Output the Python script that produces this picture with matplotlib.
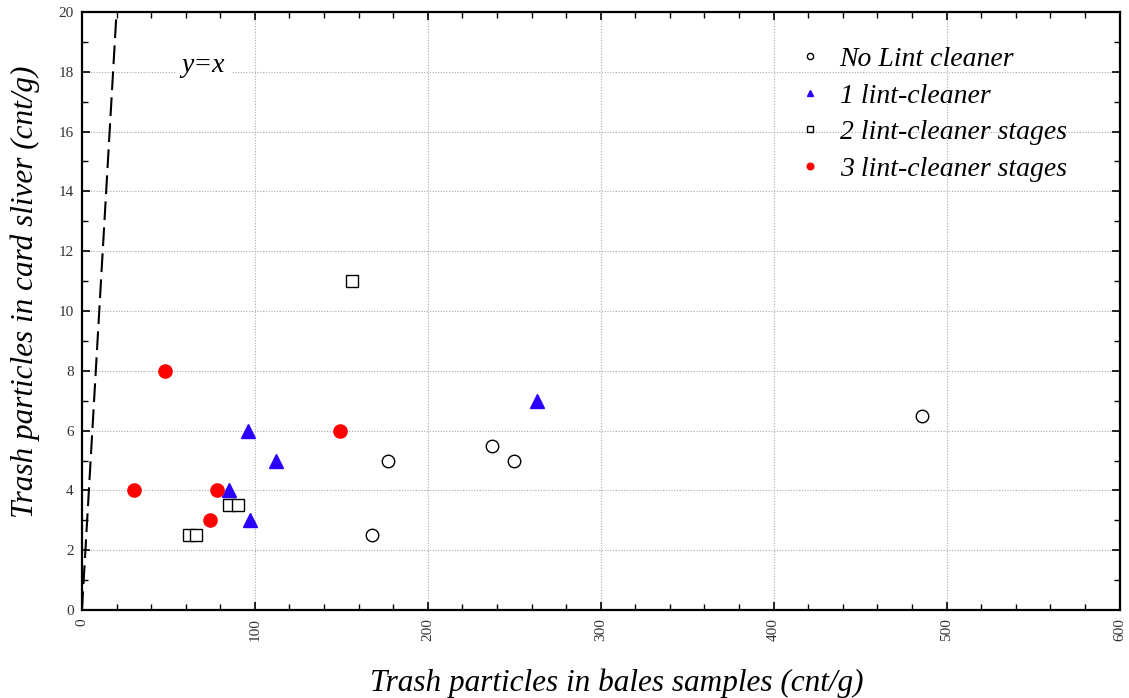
import numpy as np
import matplotlib
matplotlib.use("Agg")
import matplotlib.pyplot as plt
from matplotlib.ticker import MultipleLocator

# data
no_lint_x = [177, 168, 237, 250, 486]
no_lint_y = [5, 2.5, 5.5, 5, 6.5]

one_lint_x = [96, 112, 85, 97, 263]
one_lint_y = [6, 5, 4, 3, 7]

two_lint_x = [156, 62, 66, 85, 90]
two_lint_y = [11, 2.5, 2.5, 3.5, 3.5]

three_lint_x = [48, 30, 78, 74, 149]
three_lint_y = [8, 4, 4, 3, 6]

yx_line = [0, 20]

serif = ["Liberation Serif", "DejaVu Serif"]

fig = plt.figure(figsize=(11.29, 6.98), dpi=100)
ax = fig.add_axes([0.0726, 0.126, 0.919, 0.857])

# y = x reference line
ax.plot(yx_line, yx_line, color="black", lw=1.5, dashes=(9, 3.5), zorder=2)
ax.text(70, 18.2, "y=x", fontsize=20, style="italic", family=serif,
        ha="center", va="center", backgroundcolor="white", zorder=3)

ax.plot(no_lint_x, no_lint_y, "o", ls="none", mfc="white", mec="black",
        mew=1.0, ms=9, label="No Lint cleaner", zorder=4)
ax.plot(one_lint_x, one_lint_y, "^", ls="none", color="#2a00ff",
        ms=9.5, label="1 lint-cleaner", zorder=4)
ax.plot(two_lint_x, two_lint_y, "s", ls="none", mfc="white", mec="black",
        mew=1.0, ms=9, label="2 lint-cleaner stages", zorder=4)
ax.plot(three_lint_x, three_lint_y, "o", ls="none", color="red",
        ms=9.5, label="3 lint-cleaner stages", zorder=4)

ax.set_xlim(0, 600)
ax.set_ylim(0, 20)
ax.xaxis.set_major_locator(MultipleLocator(100))
ax.xaxis.set_minor_locator(MultipleLocator(20))
ax.yaxis.set_major_locator(MultipleLocator(2))
ax.yaxis.set_minor_locator(MultipleLocator(1))

ax.grid(True, which="major", color="#aaaaaa", ls=(0, (1, 1.5)), lw=0.8)
ax.set_axisbelow(True)

ax.tick_params(which="both", direction="in", top=True, right=True,
               color="black", labelcolor="#333333")
ax.tick_params(which="major", length=6, width=1.2, pad=6)
ax.tick_params(which="minor", length=4, width=1.0)
for lab in ax.get_xticklabels() + ax.get_yticklabels():
    lab.set_family(serif)
    lab.set_fontsize(11)
for lab in ax.get_xticklabels():
    lab.set_rotation(90)

for sp in ax.spines.values():
    sp.set_linewidth(1.6)

ax.set_xlabel("Trash particles in bales samples (cnt/g)", fontsize=22.5,
              style="italic", family=serif)
ax.set_ylabel("Trash particles in card sliver (cnt/g)", fontsize=22.5,
              style="italic", family=serif)
ax.xaxis.set_label_coords(0.515, -0.122, transform=ax.transAxes)
ax.yaxis.set_label_coords(-0.055, 0.532, transform=ax.transAxes)
ax.xaxis.label.set_va("center")
ax.yaxis.label.set_va("center")

leg = ax.legend(loc="upper left", bbox_to_anchor=(0.686, 0.942), frameon=False,
                borderaxespad=0, borderpad=0,
                markerscale=0.5, handlelength=1.2, handletextpad=0.45,
                labelspacing=0.4, prop={"family": serif, "style": "italic", "size": 20})

fig.savefig("out.png", dpi=100)
